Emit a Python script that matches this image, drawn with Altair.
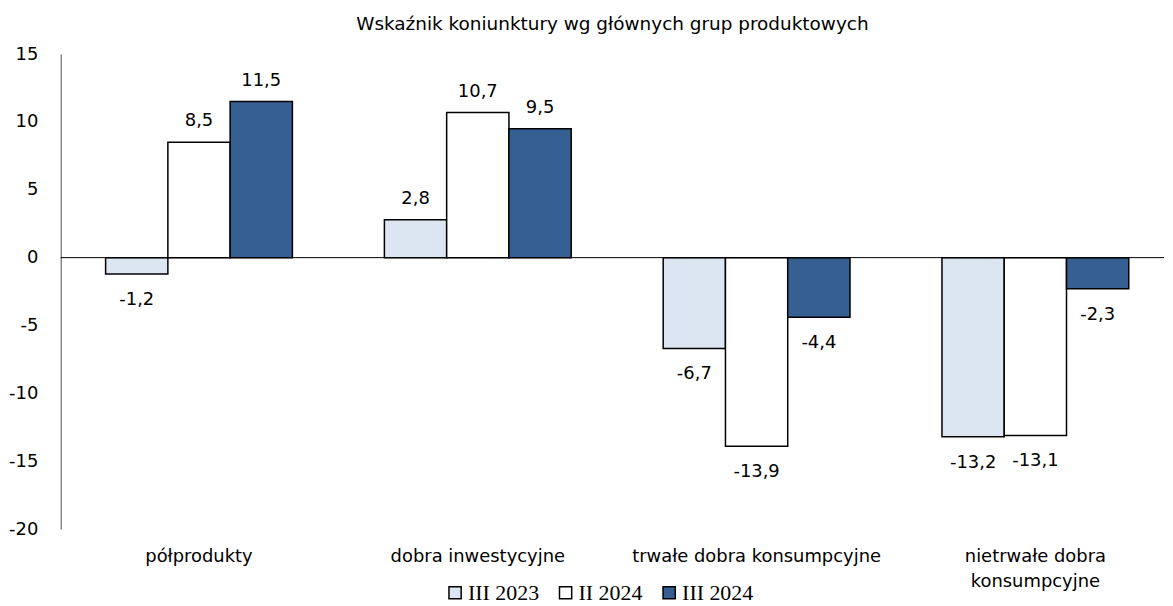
import altair as alt
import pandas as pd

categories = ["półprodukty", "dobra inwestycyjne", "trwałe dobra konsumpcyjne", "nietrwałe dobra konsumpcyjne"]
series = ["III 2023", "II 2024", "III 2024"]
v_iii_2023 = [-1.2, 2.8, -6.7, -13.2]
v_ii_2024 = [8.5, 10.7, -13.9, -13.1]
v_iii_2024 = [11.5, 9.5, -4.4, -2.3]
colors = ["#dce6f2", "#ffffff", "#376092"]
y_ticks = [-20, -15, -10, -5, 0, 5, 10, 15]

rows = []
for s, vals in zip(series, [v_iii_2023, v_ii_2024, v_iii_2024]):
    for c, v in zip(categories, vals):
        rows.append({"kat": c, "seria": s, "v": v})
df = pd.DataFrame(rows)

FONT = "DejaVu Sans"
FS = 18

x_enc = alt.X(
    "kat:N",
    sort=categories,
    scale=alt.Scale(paddingInner=0.33, paddingOuter=0.1436, align=0.56),
    axis=alt.Axis(
        title=None, labelAngle=0, domain=False, ticks=False, labelPadding=19,
        labelFont=FONT, labelFontSize=FS, labelColor="#000000", labelLineHeight=25,
        labelLimit=0,
        labelExpr="datum.label == 'nietrwałe dobra konsumpcyjne' ? ['nietrwałe dobra', 'konsumpcyjne'] : datum.label",
    ),
)
xoff = alt.XOffset("seria:N", sort=series, scale=alt.Scale(paddingInner=0, paddingOuter=0))
y_scale = alt.Scale(domain=[-20, 15], nice=False, zero=False)

base = alt.Chart(df).transform_calculate(
    lab="replace(format(datum.v, '.1f'), '.', ',')"
).transform_calculate(
    lab="replace(datum.lab, '\u2212', '-')"
)

bars = base.mark_bar(stroke="#000000", strokeWidth=1.5).encode(
    x=x_enc,
    xOffset=xoff,
    y=alt.Y(
        "v:Q", scale=y_scale,
        axis=alt.Axis(
            title=None, values=y_ticks, grid=False, ticks=False, domainColor="#888888",
            domainWidth=1.5, labelFont=FONT, labelFontSize=FS, labelColor="#000000",
            labelPadding=23, labelExpr="replace(datum.label, '\u2212', '-')",
        ),
    ),
    y2=alt.datum(0),
    fill=alt.Fill(
        "seria:N", sort=series,
        scale=alt.Scale(domain=series, range=colors),
        legend=alt.Legend(
            title=None, orient="none", direction="horizontal", legendX=385, legendY=530,
            symbolType="square", symbolSize=150, symbolStrokeColor="#000000",
            symbolStrokeWidth=1.5, labelFont="Liberation Serif", labelFontSize=22,
            labelColor="#000000", columnPadding=15, labelOffset=2,
        ),
    ),
)

pos_labels = base.transform_filter("datum.v >= 0").mark_text(
    baseline="bottom", dy=-12, font=FONT, fontSize=FS, color="#000000"
).encode(x=x_enc, xOffset=xoff, y=alt.Y("v:Q", scale=y_scale), text="lab:N")

neg_labels = base.transform_filter("datum.v < 0").mark_text(
    baseline="top", dy=17, font=FONT, fontSize=FS, color="#000000"
).encode(x=x_enc, xOffset=xoff, y=alt.Y("v:Q", scale=y_scale), text="lab:N")

zero = alt.Chart(pd.DataFrame({"z": [0]})).mark_rule(color="#000000", strokeWidth=1).encode(
    y=alt.Y("z:Q", scale=y_scale)
)

chart = alt.layer(bars, zero, pos_labels, neg_labels).properties(
    width=1108,
    height=477,
    title=alt.TitleParams(
        "Wskaźnik koniunktury wg głównych grup produktowych",
        font=FONT, fontSize=18.5, fontWeight="normal", color="#000000", offset=12,
        anchor="middle",
    ),
    padding={"left": 0, "top": 5, "right": 0, "bottom": 0},
).configure_view(stroke=None)

chart.save("out.html", embed_options={"renderer": "svg", "actions": False})
